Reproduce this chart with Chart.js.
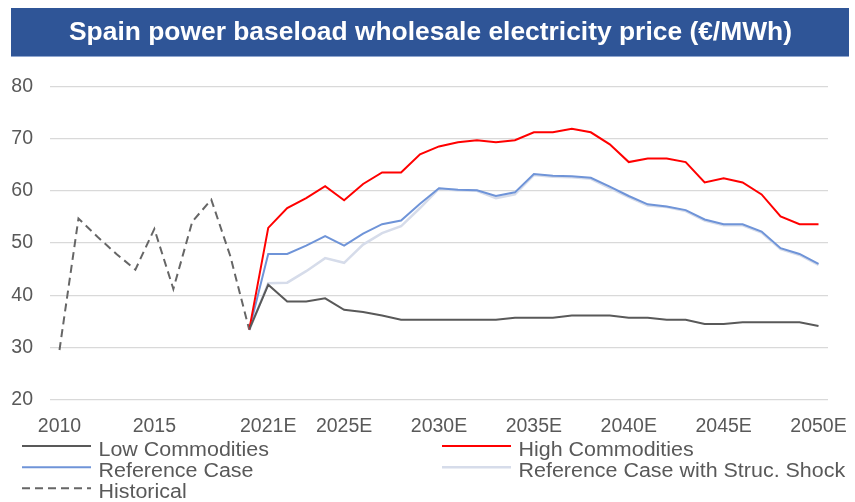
<!DOCTYPE html>
<html>
<head>
<meta charset="utf-8">
<title>Spain power baseload wholesale electricity price</title>
<script src="https://cdn.jsdelivr.net/npm/chart.js@4.4.1/dist/chart.umd.min.js"></script>
<style>
  html, body { margin: 0; padding: 0; background: #fff; }
  #wrap { width: 855px; height: 502px; }
</style>
</head>
<body>
<div id="wrap"><canvas id="priceChart" width="855" height="502"></canvas></div>
<script>
// ========== DATA ==========
const years = [
  "2010", "2011", "2012", "2013", "2014", "2015", "2016", "2017", "2018", "2019", "2020",
  "2021E", "2022E", "2023E", "2024E", "2025E", "2026E", "2027E", "2028E", "2029E", "2030E",
  "2031E", "2032E", "2033E", "2034E", "2035E", "2036E", "2037E", "2038E", "2039E", "2040E",
  "2041E", "2042E", "2043E", "2044E", "2045E", "2046E", "2047E", "2048E", "2049E", "2050E"
];
const shownTicks = ["2010", "2015", "2021E", "2025E", "2030E", "2035E", "2040E", "2045E", "2050E"];
const yTicks = [20, 30, 40, 50, 60, 70, 80];

// 2010 - 2020
const historical = [29.5, 54.7, 51.2, 47.9, 44.9, 52.7, 41.2, 54.1, 58.3, 47.5, 33.4];

// 2020 - 2050E (scenarios start from the 2020 actual)
const lowCommodities = [
  33.4, 42.0, 38.8, 38.8, 39.4, 37.2, 36.8, 36.1, 35.3, 35.3, 35.3,
  35.3, 35.3, 35.3, 35.7, 35.7, 35.7, 36.1, 36.1, 36.1, 35.7,
  35.7, 35.3, 35.3, 34.5, 34.5, 34.8, 34.8, 34.8, 34.8, 34.1
];
const highCommodities = [
  33.4, 52.9, 56.7, 58.6, 60.9, 58.2, 61.3, 63.5, 63.5, 67.0, 68.5,
  69.3, 69.7, 69.3, 69.7, 71.2, 71.2, 71.9, 71.2, 68.9, 65.5,
  66.2, 66.2, 65.5, 61.6, 62.4, 61.6, 59.3, 55.1, 53.6, 53.6
];
const referenceCase = [
  33.4, 47.9, 47.9, 49.5, 51.3, 49.5, 51.8, 53.6, 54.3, 57.5, 60.5,
  60.2, 60.1, 59.0, 59.7, 63.2, 62.9, 62.8, 62.5, 60.8, 59.0,
  57.4, 57.0, 56.3, 54.5, 53.6, 53.6, 52.2, 49.0, 47.9, 46.0
];
const strucShock = [
  33.3, 42.3, 42.4, 44.6, 47.1, 46.2, 49.7, 51.9, 53.2, 56.7, 60.4,
  60.1, 60.0, 58.6, 59.3, 63.0, 62.7, 62.6, 62.3, 60.5, 58.8,
  57.2, 56.9, 56.1, 54.3, 53.4, 53.4, 52.0, 48.8, 47.7, 45.8
];

const titleText = "Spain power baseload wholesale electricity price (€/MWh)";
const fontFamily = "'Liberation Sans', Arial, Helvetica, sans-serif";
const textGray = "#595959";

// forecast series begin at 2020 (index 10)
const beforeForecast = years.indexOf("2020");
const forecast = (arr) => new Array(beforeForecast).fill(null).concat(arr);

// ======== TITLE BANNER PLUGIN ========
const bannerPlugin = {
  id: "banner",
  afterLayout(chart) {
    // centre the title on the banner rather than on the padded box
    if (chart.titleBlock) chart.titleBlock.left += 22;
  },
  beforeDraw(chart) {
    const ctx = chart.ctx;
    ctx.save();
    ctx.fillStyle = "#2F5597";
    ctx.fillRect(11, 8, 838, 48);
    ctx.fillStyle = "#8FA6CF";
    ctx.fillRect(11, 56, 838, 1);
    ctx.restore();
  },
};

// ======== TWO-COLUMN LEGEND PLUGIN ========
const legendPlugin = {
  id: "twoColLegend",
  afterDraw(chart) {
    const ctx = chart.ctx;
    const cols = [22, 442];
    const rows = [446, 467.3, 488.3];
    const lineLen = 69;
    ctx.save();
    chart.data.datasets.forEach((ds, i) => {
      const x = cols[i % 2];
      const y = rows[Math.floor(i / 2)];
      ctx.strokeStyle = ds.borderColor;
      ctx.lineWidth = ds.borderWidth;
      ctx.setLineDash(ds.borderDash || []);
      ctx.beginPath();
      ctx.moveTo(x, y);
      ctx.lineTo(x + lineLen, y);
      ctx.stroke();
      ctx.setLineDash([]);

      ctx.save();
      ctx.translate(x + lineLen + 7.5, y + 9.8);
      ctx.scale(1.1, 1);
      ctx.fillStyle = textGray;
      ctx.font = "19.5px " + fontFamily;
      ctx.textBaseline = "alphabetic";
      ctx.fillText(ds.label, 0, 0);
      ctx.restore();
    });
    ctx.restore();
  },
};

// ======== CHART ========
const ctx = document.getElementById("priceChart");

new Chart(ctx, {
  type: "line",
  data: {
    labels: years,
    datasets: [
      {
        label: "Low Commodities",
        data: forecast(lowCommodities),
        borderColor: "#595959",
        borderWidth: 2,
      },
      {
        label: "High Commodities",
        data: forecast(highCommodities),
        borderColor: "#FF0000",
        borderWidth: 2,
      },
      {
        label: "Reference Case",
        data: forecast(referenceCase),
        borderColor: "#6F94D8",
        borderWidth: 2,
      },
      {
        label: "Reference Case with Struc. Shock",
        data: forecast(strucShock),
        borderColor: "#D6DCEA",
        borderWidth: 2.5,
      },
      {
        label: "Historical",
        data: historical,
        borderColor: "#666666",
        borderWidth: 2,
        borderDash: [8, 5],
      },
    ],
  },
  options: {
    responsive: false,
    animation: false,
    devicePixelRatio: 1,
    elements: {
      point: { radius: 0, hoverRadius: 0 },
      line: { tension: 0, fill: false },
    },
    layout: { padding: { left: 11, right: 27, bottom: 49, top: 0 } },
    plugins: {
      legend: { display: false },
      tooltip: { enabled: false },
      title: {
        display: true,
        text: titleText,
        color: "#FFFFFF",
        font: { family: fontFamily, size: 26.4, weight: "bold" },
        padding: { top: 17, bottom: 37.7 },
      },
    },
    scales: {
      x: {
        offset: true,
        grid: { display: false, drawTicks: false },
        border: { display: false },
        afterFit: (axis) => {
          // let the end labels spill into the margins
          axis.paddingLeft = 0;
          axis.paddingRight = 0;
        },
        ticks: {
          autoSkip: false,
          maxRotation: 0,
          color: textGray,
          padding: 15,
          font: { family: fontFamily, size: 19.5 },
          callback: (value, index) =>
            shownTicks.includes(years[index]) ? years[index] : null,
        },
      },
      y: {
        min: yTicks[0],
        max: yTicks[yTicks.length - 1],
        grid: { color: "#D9D9D9", lineWidth: 1.3, drawTicks: false },
        border: { display: false },
        afterBuildTicks: (axis) => {
          axis.ticks = yTicks.map((v) => ({ value: v }));
        },
        afterFit: (axis) => {
          // label width + one padding only
          axis.width = 39;
        },
        ticks: {
          color: textGray,
          padding: 17,
          font: { family: fontFamily, size: 19.5 },
        },
      },
    },
  },
  plugins: [bannerPlugin, legendPlugin],
});
</script>
</body>
</html>
